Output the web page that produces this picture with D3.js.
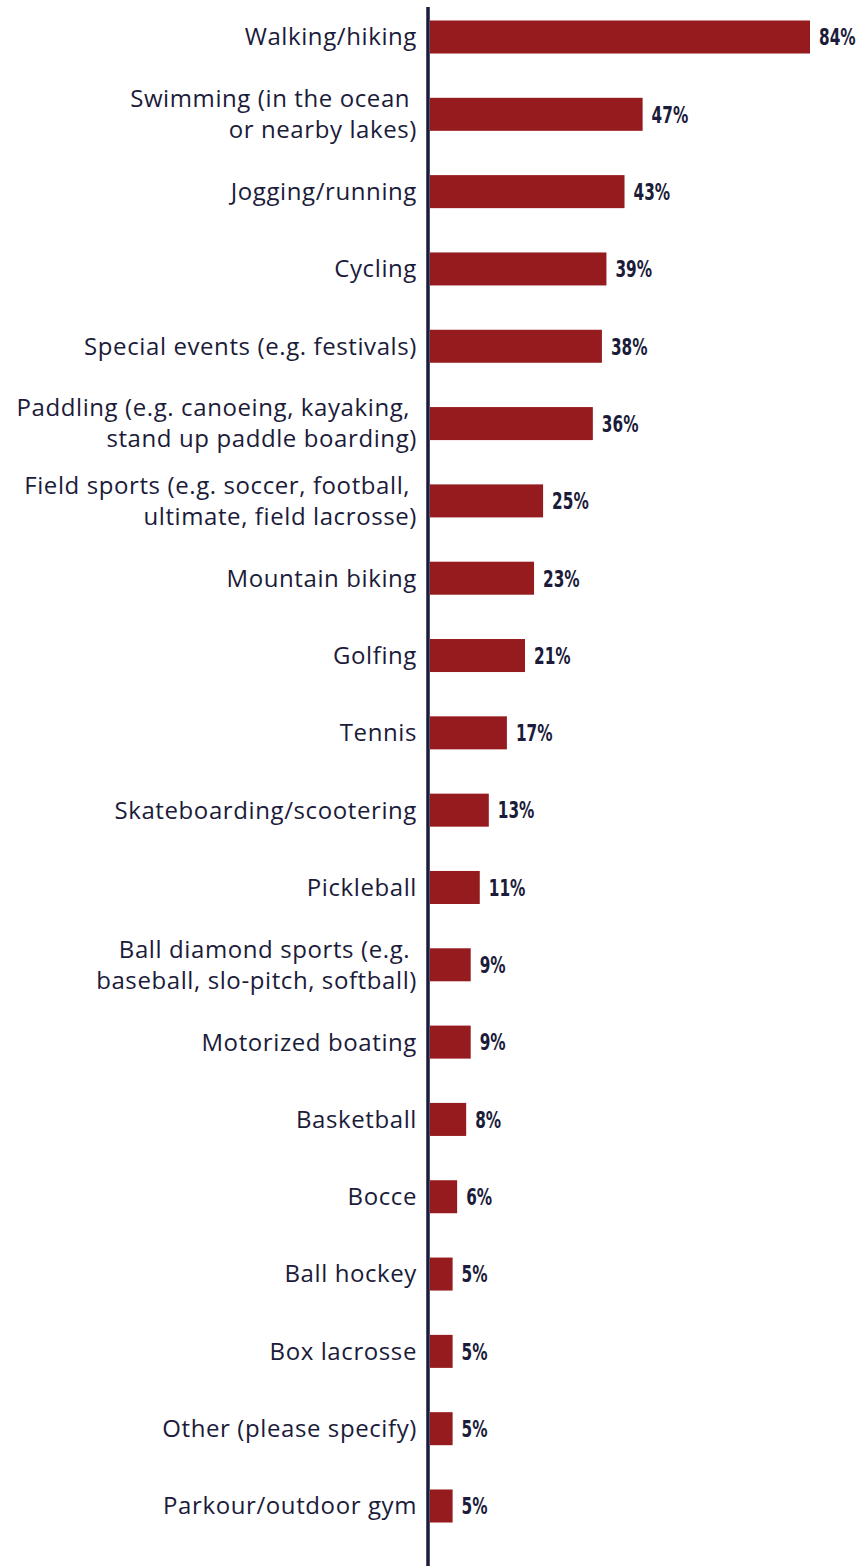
<!DOCTYPE html>
<html>
<head>
<meta charset="utf-8">
<script src="https://cdn.jsdelivr.net/npm/d3@7"></script>
<style>
  html, body { margin: 0; padding: 0; background: #fff; }
  svg { display: block; }
</style>
</head>
<body>
<svg id="chart" width="867" height="1566"></svg>
<script>
// Activity categories (line breaks marked with "\n"), top to bottom
const categories = [
  "Walking/hiking",
  "Swimming (in the ocean \nor nearby lakes)",
  "Jogging/running",
  "Cycling",
  "Special events (e.g. festivals)",
  "Paddling (e.g. canoeing, kayaking, \nstand up paddle boarding)",
  "Field sports (e.g. soccer, football, \nultimate, field lacrosse)",
  "Mountain biking",
  "Golfing",
  "Tennis",
  "Skateboarding/scootering",
  "Pickleball",
  "Ball diamond sports (e.g. \nbaseball, slo-pitch, softball)",
  "Motorized boating",
  "Basketball",
  "Bocce",
  "Ball hockey",
  "Box lacrosse",
  "Other (please specify)",
  "Parkour/outdoor gym"
];

// Share of respondents (%)
const values = [84, 47, 43, 39, 38, 36, 25, 23, 21, 17, 13, 11, 9, 9, 8, 6, 5, 5, 5, 5];

const barColor = "#951b1f";
const inkColor = "#1b1b3a";

const svg = d3.select("#chart");
const axisX = 428;
const x0 = 430;

const step = (1506 - 37) / (categories.length - 1);
const y = d3.scaleBand()
  .domain(categories)
  .range([37 - step / 2, 1506 + step / 2])
  .paddingInner(0.573)
  .paddingOuter(0.573 / 2);

const x = d3.scaleLinear()
  .domain([0, 84])
  .range([x0, 810]);

const rows = categories.map((c, i) => ({ cat: c, val: values[i] }));

// Bars
svg.append("g")
  .selectAll("rect")
  .data(rows)
  .join("rect")
  .attr("x", x(0))
  .attr("y", d => y(d.cat))
  .attr("width", d => x(d.val) - x(0))
  .attr("height", y.bandwidth())
  .attr("fill", barColor);

// Value labels (condensed bold)
svg.append("g")
  .selectAll("text")
  .data(rows)
  .join("text")
  .attr("transform", d => `translate(${x(d.val) + 9},${y(d.cat) + y.bandwidth() / 2}) scale(0.74,1)`)
  .attr("dy", "0.36em")
  .attr("fill", inkColor)
  .attr("font-family", "'DejaVu Sans Condensed', 'DejaVu Sans', sans-serif")
  .attr("font-stretch", "condensed")
  .attr("font-weight", "bold")
  .attr("font-size", 23)
  .text(d => d.val + "%");

// Category labels, right aligned against the axis
const lineH = 31;
const labels = svg.append("g")
  .selectAll("text")
  .data(rows)
  .join("text")
  .attr("text-anchor", "end")
  .attr("fill", inkColor)
  .attr("font-family", "'Open Sans', sans-serif")
  .attr("font-size", 24)
  .attr("letter-spacing", 0.6)
  .style("white-space", "pre");

labels.each(function (d) {
  const lines = d.cat.split("\n");
  const cy = y(d.cat) + y.bandwidth() / 2;
  const top = cy - (lines.length - 1) * lineH / 2;
  d3.select(this)
    .selectAll("tspan")
    .data(lines)
    .join("tspan")
    .attr("x", 417)
    .attr("y", (l, i) => top + i * lineH)
    .attr("dy", "0.35em")
    .text(l => l);
});

// Vertical baseline
svg.append("line")
  .attr("x1", axisX).attr("x2", axisX)
  .attr("y1", 7).attr("y2", 1566)
  .attr("stroke", inkColor)
  .attr("stroke-width", 3.5);
</script>
</body>
</html>
